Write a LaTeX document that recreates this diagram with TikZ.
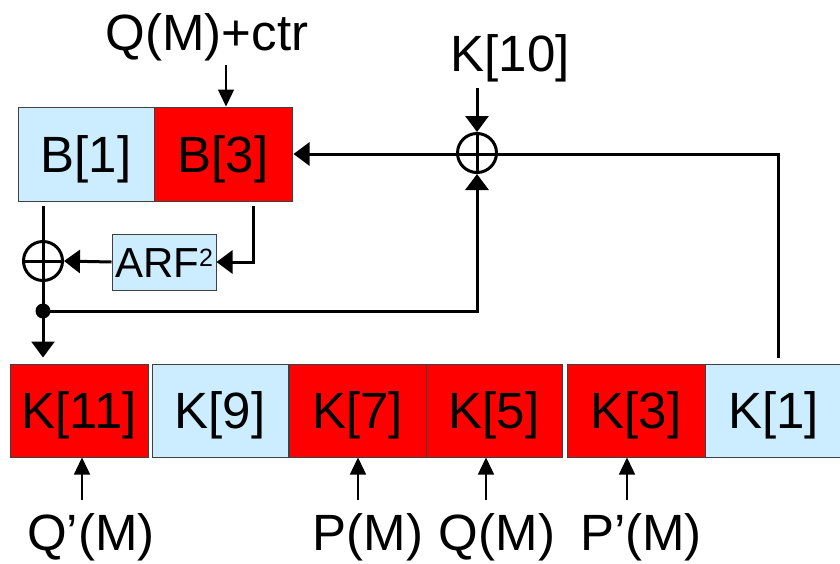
\documentclass[tikz,border=0pt]{standalone}
\usepackage{fontspec}
\setmainfont{Liberation Sans}
\usetikzlibrary{arrows.meta}
\definecolor{lb}{RGB}{204,236,255}
\definecolor{rd}{RGB}{255,0,0}
\begin{document}
\begin{tikzpicture}[x=1pt,y=-1pt,
  box/.style={draw=black!75,line width=1pt,inner sep=0pt,text height=36.5pt,text depth=0pt,
    font=\fontsize{51}{60}\selectfont,minimum height=94pt},
  bluebox/.style={box,fill=lb},
  redbox/.style={box,fill=rd},
  lbl/.style={anchor=base,inner sep=0pt,font=\fontsize{51}{60}\selectfont},
  xorc/.style={circle,draw,line width=3pt,minimum size=39pt,inner sep=0pt},
  wire/.style={line width=3pt,line cap=butt,line join=miter},
  thickarr/.style={wire,-{Triangle[width=23pt,length=16pt]}},
  thinarr/.style={line width=1.4pt,-{Triangle[width=16pt,length=17pt]}}
]
\useasboundingbox (0,0) rectangle (840,563);

% top register
\node[bluebox,minimum width=136pt] (B1) at (86,154) {B[1]};
\node[redbox,minimum width=138pt] (B3) at (223,154) {B[3]};
\node[box,fill=lb,minimum width=104pt,minimum height=56pt,text height=30pt,
  font=\fontsize{42}{50}\selectfont] (ARF) at (164,262)
  {ARF\raisebox{11pt}{\fontsize{25}{28}\selectfont 2}};

% bottom register
\node[redbox,minimum width=138pt,minimum height=93pt] (K11) at (79,410.5) {K[11]};
\node[bluebox,minimum width=136pt,minimum height=93pt] (K9) at (220,410.5) {K[9]};
\node[redbox,minimum width=137pt,minimum height=93pt] (K7) at (357.5,410.5) {K[7]};
\node[redbox,minimum width=136pt,minimum height=93pt] (K5) at (494,410.5) {K[5]};
\node[redbox,minimum width=138pt,minimum height=93pt] (K3) at (636,410.5) {K[3]};
\node[bluebox,minimum width=137pt,minimum height=93pt] (K1) at (773.5,410.5) {K[1]};

% xor gates
\node[xorc] (x1) at (43,261) {};
\node[xorc] (x2) at (477,153) {};
\draw[line width=3pt] (x1.west) -- (x1.east);
\draw[line width=3pt] (x2.north) -- (x2.south);

% labels
\node[lbl] (qctr) at (207,50) {Q(M)+ctr};
\node[lbl] (k10) at (510,71) {K[10]};
\node[lbl] (lq2) at (91,550) {Q’(M)};
\node[lbl] (lp) at (368,550) {P(M)};
\node[lbl] (lq) at (497,550) {Q(M)};
\node[lbl] (lp2) at (641,550) {P’(M)};

% free ends
\coordinate (qin) at (226,65);
\coordinate (kin) at (477,88);
\coordinate (b1o) at (43,206);
\coordinate (b3o) at (253,206);
\coordinate (d) at (43,311);
\coordinate (k1o) at (778,358);
\coordinate (a11) at (82,500);
\coordinate (a7) at (358,500);
\coordinate (a5) at (486,500);
\coordinate (a3) at (627,500);

% connectors
\draw[thinarr] (qin) -- (qin |- B3.north);
\draw[thickarr] (kin) -- (x2.north);
\draw[wire] (b1o) -- (d);
\draw[thickarr] (d) -- ([yshift=6pt]d |- K11.north);
\draw[thickarr] (b3o) |- (ARF.east);
\draw[thickarr] (ARF.west) -- (x1.east);
\fill (d) circle (7.5pt);
\draw[thickarr] (d) -| (x2.south);
\draw[thickarr] (k1o) |- ([xshift=1pt]B3.east);

\draw[thinarr] (a11) -- (a11 |- K11.south);
\draw[thinarr] (a7) -- (a7 |- K7.south);
\draw[thinarr] (a5) -- (a5 |- K5.south);
\draw[thinarr] (a3) -- (a3 |- K3.south);
\end{tikzpicture}
\end{document}
